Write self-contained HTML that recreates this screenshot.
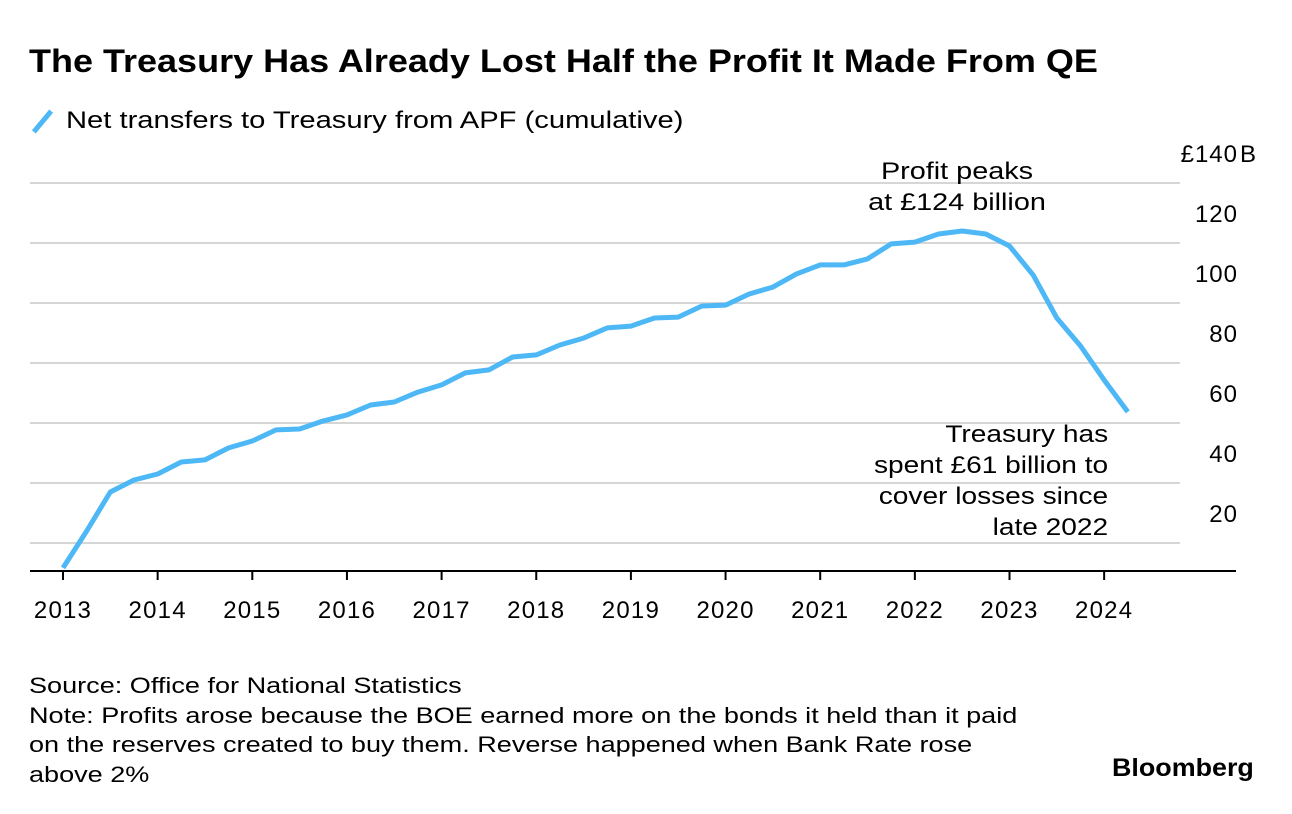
<!DOCTYPE html>
<html><head><meta charset="utf-8"><style>
body{margin:0;width:1292px;height:814px;background:#fff;font-family:"Liberation Sans",sans-serif;color:#000;overflow:hidden;position:relative}
.t{position:absolute;white-space:nowrap}
</style></head><body>
<div class="t" style="left:29px;top:43px;font-size:32px;font-weight:bold;transform:scaleX(1.125);transform-origin:left top">The Treasury Has Already Lost Half the Profit It Made From QE</div>
<span style="position:absolute;left:40px;top:108px;width:5px;height:27px;background:#4db8f5;transform:rotate(40deg)"></span>
<div class="t" style="left:66px;top:107px;font-size:24px;transform:scaleX(1.215);transform-origin:left top">Net transfers to Treasury from APF (cumulative)</div>
<svg id="chart" width="1292" height="814" style="position:absolute;left:0;top:0"></svg>
<div class="t" style="left:857px;width:200px;top:156px;font-size:24px;text-align:center;line-height:31px;transform:scaleX(1.2);transform-origin:center top">Profit peaks<br>at £124 billion</div>
<div class="t" style="right:184px;top:419px;font-size:24px;text-align:right;line-height:31px;transform:scaleX(1.17);transform-origin:right top">Treasury has<br>spent £61 billion to<br>cover losses since<br>late 2022</div>
<div class="t" style="left:29px;top:671px;font-size:22px;line-height:29.5px;transform:scaleX(1.23);transform-origin:left top">Source: Office for National Statistics<br>Note: Profits arose because the BOE earned more on the bonds it held than it paid<br>on the reserves created to buy them. Reverse happened when Bank Rate rose<br>above 2%</div>
<div class="t" style="left:1112px;top:754px;font-size:25px;font-weight:bold;transform:scaleX(1.075);transform-origin:left top">Bloomberg</div>
<script>
const yTicks=[20,40,60,80,100,120,140];
const yTickLabels=["20","40","60","80","100","120","£140"];
const xYears=[2013,2014,2015,2016,2017,2018,2019,2020,2021,2022,2023,2024];
const values=[11.7,24,37,41,43,47,47.7,51.7,54,57.7,58,60.7,62.7,66,67,70.3,72.7,76.7,77.7,82,82.7,86,88.3,91.7,92.3,95,95.3,99,99.3,103,105.3,109.7,112.7,112.7,114.7,119.7,120.3,123,124,123,119,109.3,95,85.7,74.3,63.7];
const startYear=2013, step=0.25;
const NS="http://www.w3.org/2000/svg";
const svg=document.getElementById('chart');
const x=v=>63+(v-2013)*94.65;
const y=v=>603-v*3;
function mk(t,a){const e=document.createElementNS(NS,t);for(const k in a)e.setAttribute(k,a[k]);svg.appendChild(e);return e;}
yTicks.forEach((v,i)=>{
 const g=mk('line',{x1:30,x2:1180,y1:y(v),y2:y(v),stroke:'#d6d6d6','stroke-width':2});
 
 
 const t=mk('text',{x:1238,y:y(v)-21,'text-anchor':'end','font-size':24,'letter-spacing':1,'font-family':'Liberation Sans, sans-serif'});
 t.textContent=yTickLabels[i];
 
 
});
const unit=mk('text',{x:1240,y:y(140)-21,'font-size':24,'font-family':'Liberation Sans, sans-serif'});
unit.textContent='B';


const ax=mk('line',{x1:30,x2:1236,y1:571,y2:571,stroke:'#000','stroke-width':2});


xYears.forEach(yr=>{
 const tk=mk('line',{x1:x(yr),x2:x(yr),y1:571,y2:580,stroke:'#000','stroke-width':2});
 
 
 const t=mk('text',{x:x(yr),y:618,'text-anchor':'middle','font-size':24,'letter-spacing':1.2,'font-family':'Liberation Sans, sans-serif'});
 t.textContent=yr;
 
 
});
const pts=values.map((v,i)=>x(startYear+i*step).toFixed(1)+','+y(v).toFixed(1)).join(' ');
const line=mk('polyline',{points:pts,fill:'none',stroke:'#4db8f5','stroke-width':5,'stroke-linejoin':'round'});


</script>
</body></html>
